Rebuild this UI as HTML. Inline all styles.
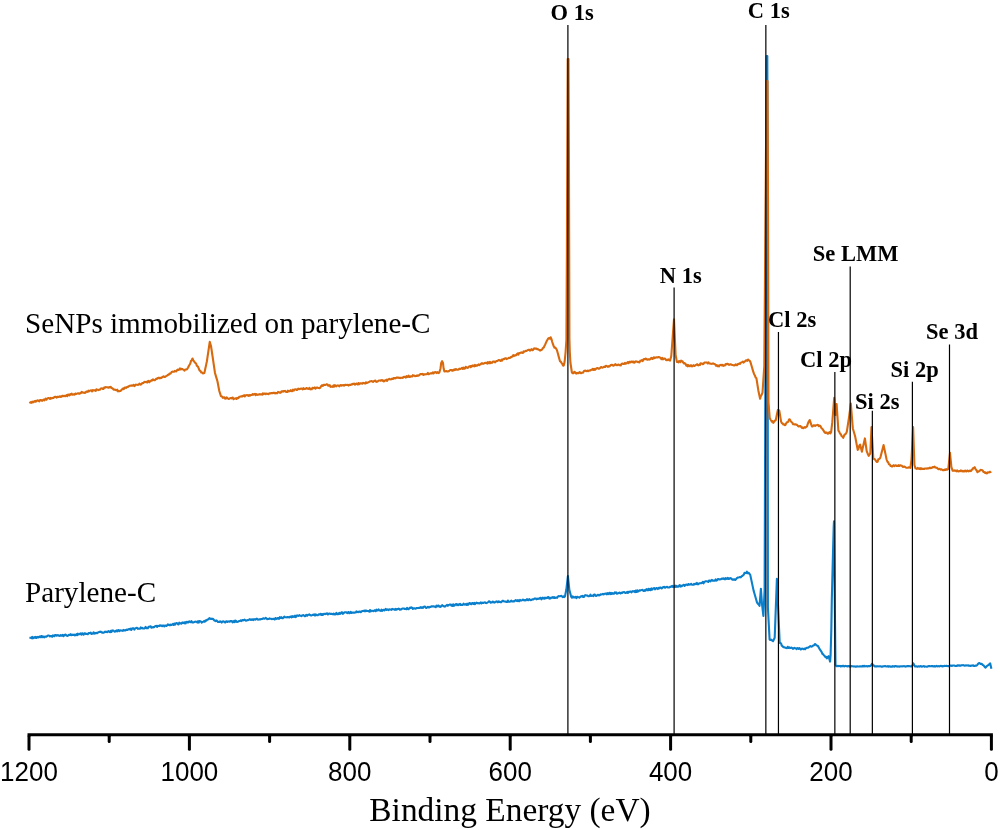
<!DOCTYPE html>
<html><head><meta charset="utf-8"><style>
html,body{margin:0;padding:0;background:#fff;}
svg{display:block;will-change:transform;}
</style></head><body>
<svg width="1000" height="830" viewBox="0 0 1000 830">
<rect width="1000" height="830" fill="#fff"/>
<path d="M29.40 637.75 L30.11 637.79 L30.82 637.77 L31.53 638.23 L32.24 636.85 L32.95 638.30 L33.65 637.63 L34.36 637.17 L35.07 637.80 L35.78 636.84 L36.49 638.02 L37.20 637.26 L37.91 636.83 L38.62 637.46 L39.33 636.86 L40.04 636.35 L40.75 637.26 L41.45 636.02 L42.16 637.27 L42.87 636.25 L43.58 636.85 L44.29 637.38 L45.00 636.50 L45.71 636.61 L46.43 636.70 L47.14 636.06 L47.86 635.49 L48.57 635.51 L49.29 635.66 L50.00 636.42 L50.71 636.06 L51.43 636.16 L52.14 636.77 L52.86 635.43 L53.57 635.56 L54.29 636.24 L55.00 635.13 L55.71 635.05 L56.43 635.61 L57.14 635.15 L57.86 635.54 L58.57 635.27 L59.29 635.84 L60.00 635.81 L60.71 635.12 L61.43 635.79 L62.14 635.50 L62.86 634.88 L63.57 636.20 L64.29 634.98 L65.00 634.78 L65.71 634.65 L66.43 635.53 L67.14 635.89 L67.86 635.70 L68.57 635.01 L69.29 634.74 L70.00 635.10 L70.71 634.21 L71.43 635.23 L72.14 635.03 L72.86 634.61 L73.57 635.05 L74.29 634.64 L75.00 635.42 L75.71 635.02 L76.43 634.13 L77.14 635.19 L77.86 633.66 L78.57 634.43 L79.29 634.16 L80.00 633.81 L80.71 633.45 L81.43 634.61 L82.14 633.25 L82.86 634.11 L83.57 634.71 L84.29 633.29 L85.00 633.33 L85.71 633.96 L86.43 633.73 L87.14 633.90 L87.86 634.13 L88.57 632.99 L89.29 633.16 L90.00 633.08 L90.71 632.59 L91.43 633.96 L92.14 633.72 L92.86 633.55 L93.57 632.28 L94.29 633.65 L95.00 633.00 L95.71 633.34 L96.43 632.79 L97.14 633.19 L97.86 632.62 L98.57 632.16 L99.29 631.88 L100.00 632.02 L100.71 631.62 L101.43 632.05 L102.14 632.68 L102.86 632.51 L103.57 632.70 L104.29 632.39 L105.00 631.56 L105.71 631.98 L106.43 631.70 L107.14 632.23 L107.86 631.70 L108.57 631.19 L109.29 631.76 L110.00 632.23 L110.71 630.88 L111.43 631.94 L112.14 630.39 L112.86 630.74 L113.57 630.62 L114.29 631.41 L115.00 631.68 L115.71 631.26 L116.43 630.48 L117.14 631.34 L117.86 630.33 L118.57 630.11 L119.29 631.17 L120.00 630.40 L120.71 630.55 L121.43 630.58 L122.14 630.45 L122.86 630.91 L123.57 629.97 L124.29 630.52 L125.00 630.21 L125.71 630.40 L126.43 629.61 L127.14 630.02 L127.86 629.69 L128.57 629.16 L129.29 628.93 L130.00 629.55 L130.71 628.55 L131.43 629.89 L132.14 628.51 L132.86 628.23 L133.57 628.29 L134.29 629.61 L135.00 628.55 L135.71 628.13 L136.43 627.86 L137.14 627.80 L137.86 628.83 L138.57 628.66 L139.29 628.69 L140.00 628.68 L140.71 627.47 L141.43 628.28 L142.14 627.82 L142.86 628.52 L143.57 628.44 L144.29 628.49 L145.00 627.75 L145.71 626.94 L146.43 628.22 L147.14 628.22 L147.86 628.20 L148.57 626.70 L149.29 626.79 L150.00 626.55 L150.71 626.34 L151.43 627.65 L152.14 627.51 L152.86 627.13 L153.57 627.38 L154.29 626.98 L155.00 626.31 L155.71 625.92 L156.43 625.84 L157.14 626.88 L157.86 625.87 L158.57 625.98 L159.29 626.08 L160.00 625.32 L160.71 625.65 L161.43 625.61 L162.14 626.27 L162.86 625.61 L163.57 625.45 L164.29 626.47 L165.00 625.60 L165.71 625.50 L166.43 625.99 L167.14 625.48 L167.86 624.38 L168.57 624.92 L169.29 624.86 L170.00 625.32 L170.71 624.49 L171.43 625.00 L172.14 624.61 L172.86 623.96 L173.57 624.95 L174.29 623.53 L175.00 624.66 L175.71 623.45 L176.43 623.06 L177.14 623.30 L177.86 624.14 L178.57 624.40 L179.29 622.64 L180.00 623.36 L180.71 623.26 L181.43 623.67 L182.14 622.53 L182.86 622.95 L183.57 622.59 L184.29 623.31 L185.00 622.23 L185.71 623.29 L186.43 622.06 L187.14 621.84 L187.86 622.56 L188.57 622.11 L189.29 621.34 L190.00 621.90 L190.74 622.13 L191.47 621.19 L192.21 622.39 L192.94 622.24 L193.68 622.39 L194.41 622.12 L195.15 621.65 L195.88 621.73 L196.62 621.72 L197.35 622.56 L198.09 621.20 L198.82 622.56 L199.56 621.09 L200.29 621.40 L201.03 621.50 L201.76 622.58 L202.50 621.90 L203.25 621.64 L204.00 621.17 L204.75 621.77 L205.50 620.41 L206.25 620.60 L207.04 619.91 L207.82 619.40 L208.61 619.16 L209.40 618.10 L210.12 618.81 L210.85 618.90 L211.57 618.67 L212.30 618.91 L213.03 618.89 L213.75 619.75 L214.46 620.64 L215.18 620.64 L215.89 621.08 L216.61 620.42 L217.32 621.18 L218.04 622.06 L218.75 621.90 L219.48 622.03 L220.21 621.26 L220.94 621.84 L221.67 622.55 L222.40 621.45 L223.12 621.38 L223.85 621.56 L224.58 622.25 L225.31 622.48 L226.04 621.31 L226.77 621.32 L227.50 621.90 L228.24 621.42 L228.97 621.50 L229.71 621.78 L230.44 621.11 L231.18 621.34 L231.91 621.05 L232.65 622.34 L233.38 621.87 L234.12 620.75 L234.85 622.16 L235.59 620.64 L236.32 621.07 L237.06 622.03 L237.79 621.66 L238.53 621.50 L239.26 620.94 L240.00 621.00 L240.74 620.39 L241.47 621.05 L242.21 620.05 L242.94 620.12 L243.68 620.34 L244.41 619.64 L245.15 620.17 L245.88 620.74 L246.62 620.48 L247.35 620.06 L248.09 620.19 L248.82 619.81 L249.56 619.17 L250.29 619.86 L251.03 619.43 L251.76 619.90 L252.50 619.40 L253.24 620.04 L253.97 619.18 L254.71 619.37 L255.44 619.61 L256.18 619.00 L256.91 618.62 L257.65 619.41 L258.38 619.62 L259.12 619.39 L259.85 619.21 L260.59 619.42 L261.32 619.07 L262.06 618.95 L262.79 618.58 L263.53 618.29 L264.26 618.77 L265.00 618.50 L265.75 617.87 L266.50 618.46 L267.25 619.13 L268.00 619.06 L268.75 618.97 L269.50 618.38 L270.25 618.72 L271.00 618.82 L271.75 619.16 L272.50 619.00 L273.24 618.74 L273.97 619.09 L274.71 619.42 L275.44 618.05 L276.18 618.75 L276.91 618.86 L277.65 618.09 L278.38 618.16 L279.12 618.88 L279.85 617.19 L280.59 617.94 L281.32 617.19 L282.06 618.14 L282.79 618.31 L283.53 617.49 L284.26 616.67 L285.00 617.25 L285.71 617.31 L286.43 617.19 L287.14 617.43 L287.86 617.01 L288.57 617.17 L289.29 617.42 L290.00 616.84 L290.71 616.58 L291.43 617.43 L292.14 616.11 L292.86 616.86 L293.57 616.30 L294.29 616.86 L295.00 615.71 L295.71 617.11 L296.43 615.98 L297.14 615.40 L297.86 615.71 L298.57 615.86 L299.29 615.14 L300.00 615.76 L300.71 615.70 L301.43 616.11 L302.14 615.46 L302.86 615.24 L303.57 615.11 L304.29 615.92 L305.00 616.20 L305.71 615.43 L306.43 614.84 L307.14 615.77 L307.86 615.01 L308.57 614.64 L309.29 614.43 L310.00 615.00 L310.71 615.43 L311.43 615.45 L312.14 615.12 L312.86 614.80 L313.57 614.93 L314.29 614.32 L315.00 615.54 L315.71 614.46 L316.43 614.91 L317.14 615.18 L317.86 615.14 L318.57 614.52 L319.29 614.19 L320.00 614.58 L320.71 613.83 L321.43 615.00 L322.14 614.15 L322.86 614.95 L323.57 613.93 L324.29 614.08 L325.00 613.83 L325.71 614.09 L326.43 613.64 L327.14 613.30 L327.86 614.48 L328.57 613.70 L329.29 613.60 L330.00 613.66 L330.71 613.93 L331.43 613.81 L332.14 614.13 L332.86 614.13 L333.57 613.59 L334.29 614.51 L335.00 613.75 L335.71 614.29 L336.43 612.87 L337.14 614.12 L337.86 614.19 L338.57 613.93 L339.29 612.77 L340.00 613.88 L340.71 613.48 L341.43 612.37 L342.14 612.31 L342.86 613.84 L343.57 613.28 L344.29 612.53 L345.00 612.21 L345.71 612.22 L346.43 612.31 L347.14 613.18 L347.86 612.38 L348.57 611.99 L349.29 613.21 L350.00 612.96 L350.71 611.83 L351.43 613.00 L352.14 612.46 L352.86 612.69 L353.57 612.44 L354.29 612.76 L355.00 612.52 L355.71 612.54 L356.43 611.39 L357.14 612.17 L357.86 611.84 L358.57 612.13 L359.29 611.56 L360.00 611.60 L360.71 612.20 L361.43 611.59 L362.14 611.04 L362.86 610.94 L363.57 610.72 L364.29 611.27 L365.00 610.48 L365.71 611.12 L366.43 610.52 L367.14 611.06 L367.86 611.02 L368.57 611.03 L369.29 611.53 L370.00 610.02 L370.71 611.39 L371.43 610.70 L372.14 610.81 L372.86 610.93 L373.57 611.17 L374.29 610.33 L375.00 610.35 L375.71 611.22 L376.43 609.66 L377.14 610.56 L377.86 610.51 L378.57 609.42 L379.29 610.36 L380.00 610.43 L380.71 610.80 L381.43 609.73 L382.14 610.78 L382.86 609.93 L383.57 609.83 L384.29 610.48 L385.00 609.75 L385.71 608.92 L386.43 610.05 L387.14 609.86 L387.86 609.33 L388.57 610.19 L389.29 609.31 L390.00 609.46 L390.71 609.51 L391.43 609.89 L392.14 608.90 L392.86 609.25 L393.57 609.19 L394.29 609.38 L395.00 609.81 L395.71 608.86 L396.43 609.74 L397.14 608.98 L397.86 609.11 L398.57 608.68 L399.29 609.05 L400.00 609.81 L400.71 609.23 L401.43 609.42 L402.14 608.61 L402.86 608.55 L403.57 608.48 L404.29 608.93 L405.00 608.75 L405.71 608.93 L406.43 609.13 L407.14 607.81 L407.86 608.92 L408.57 609.14 L409.29 608.51 L410.00 607.61 L410.71 607.99 L411.43 607.43 L412.14 607.69 L412.86 608.89 L413.57 608.30 L414.29 608.33 L415.00 608.50 L415.71 608.65 L416.43 608.09 L417.14 608.05 L417.86 608.01 L418.57 608.08 L419.29 607.86 L420.00 607.95 L420.71 607.10 L421.43 607.82 L422.14 607.41 L422.86 607.88 L423.57 606.70 L424.29 606.78 L425.00 606.48 L425.71 607.68 L426.43 607.87 L427.14 607.38 L427.86 606.84 L428.57 607.55 L429.29 607.44 L430.00 606.90 L430.71 606.95 L431.43 606.38 L432.14 606.40 L432.86 606.55 L433.57 606.32 L434.29 606.46 L435.00 606.76 L435.71 607.20 L436.43 605.65 L437.14 606.47 L437.86 605.52 L438.57 605.60 L439.29 606.72 L440.00 606.27 L440.71 606.80 L441.43 605.94 L442.14 605.15 L442.86 605.73 L443.57 606.02 L444.29 606.56 L445.00 606.58 L445.71 605.66 L446.43 605.50 L447.14 604.92 L447.86 605.79 L448.57 605.00 L449.29 604.84 L450.00 604.56 L450.71 604.48 L451.43 605.58 L452.14 604.57 L452.86 605.96 L453.57 604.41 L454.29 605.68 L455.00 605.00 L455.71 604.31 L456.43 604.07 L457.14 605.21 L457.86 604.34 L458.57 605.13 L459.29 604.14 L460.00 603.86 L460.71 605.03 L461.43 604.87 L462.14 605.06 L462.86 604.79 L463.57 603.64 L464.29 604.51 L465.00 604.60 L465.71 604.12 L466.43 604.87 L467.14 603.66 L467.86 604.81 L468.57 604.34 L469.29 603.08 L470.00 603.04 L470.71 604.06 L471.43 604.29 L472.14 602.98 L472.86 603.32 L473.57 603.98 L474.29 602.97 L475.00 604.09 L475.71 603.40 L476.43 602.62 L477.14 603.09 L477.86 603.39 L478.57 603.10 L479.29 603.45 L480.00 603.10 L480.71 602.41 L481.43 603.43 L482.14 602.61 L482.86 603.00 L483.57 602.89 L484.29 602.45 L485.00 602.31 L485.71 602.90 L486.43 603.08 L487.14 602.73 L487.86 602.27 L488.57 601.72 L489.29 601.24 L490.00 601.90 L490.71 602.69 L491.43 602.21 L492.14 602.40 L492.86 601.54 L493.57 601.98 L494.29 602.60 L495.00 602.33 L495.71 601.92 L496.43 601.40 L497.14 601.59 L497.86 602.35 L498.57 601.46 L499.29 601.97 L500.00 601.81 L500.71 602.29 L501.43 602.12 L502.14 601.21 L502.86 600.71 L503.57 601.14 L504.29 601.39 L505.00 601.50 L505.71 601.59 L506.43 601.93 L507.14 602.00 L507.86 600.51 L508.57 601.80 L509.29 601.71 L510.00 601.75 L510.71 601.19 L511.43 600.63 L512.14 601.56 L512.86 601.43 L513.57 601.17 L514.29 601.51 L515.00 600.49 L515.71 599.99 L516.43 600.73 L517.14 601.09 L517.86 600.03 L518.57 600.91 L519.29 601.16 L520.00 599.92 L520.71 600.50 L521.43 600.57 L522.14 600.16 L522.86 599.66 L523.57 599.69 L524.29 600.48 L525.00 600.00 L525.71 600.43 L526.43 599.80 L527.14 599.11 L527.86 600.26 L528.57 600.14 L529.29 599.16 L530.00 599.69 L530.71 600.16 L531.43 600.08 L532.14 599.39 L532.86 599.25 L533.57 599.38 L534.29 598.64 L535.00 598.58 L535.71 598.49 L536.43 599.31 L537.14 598.67 L537.86 598.95 L538.57 598.61 L539.29 598.74 L540.00 598.05 L540.71 597.81 L541.43 599.37 L542.14 598.24 L542.86 597.72 L543.57 598.55 L544.29 598.75 L545.00 597.62 L545.71 598.30 L546.43 597.81 L547.14 598.04 L547.86 597.13 L548.57 597.09 L549.29 598.65 L550.00 597.75 L550.71 598.30 L551.43 597.58 L552.14 597.65 L552.86 597.06 L553.57 597.87 L554.29 597.20 L555.00 598.01 L555.71 597.63 L556.43 597.65 L557.14 597.82 L557.86 596.55 L558.57 596.11 L559.29 596.31 L560.00 596.21 L560.71 595.97 L561.43 595.84 L562.14 596.63 L562.86 597.09 L563.57 596.32 L564.29 597.08 L565.00 596.25 L566.25 590.00 L567.08 583.00 L567.90 576.00 L568.65 583.00 L569.40 590.00 L570.33 593.45 L571.25 596.90 L572.00 597.72 L572.75 596.40 L573.50 597.43 L574.25 597.21 L575.00 597.50 L575.74 596.74 L576.47 598.06 L577.21 596.75 L577.94 597.16 L578.68 597.18 L579.41 597.61 L580.15 597.01 L580.88 596.42 L581.62 596.41 L582.35 595.80 L583.09 597.06 L583.82 596.99 L584.56 595.57 L585.29 595.15 L586.03 595.41 L586.76 595.46 L587.50 595.60 L588.24 596.25 L588.97 596.22 L589.71 596.07 L590.44 594.69 L591.18 595.91 L591.91 595.74 L592.65 595.60 L593.38 596.14 L594.12 594.53 L594.85 594.64 L595.59 595.65 L596.32 595.92 L597.06 595.44 L597.79 594.76 L598.53 595.23 L599.26 595.47 L600.00 595.00 L600.74 594.22 L601.47 594.48 L602.21 594.25 L602.94 593.91 L603.68 594.41 L604.41 593.77 L605.15 593.77 L605.88 593.50 L606.62 594.30 L607.35 593.05 L608.09 594.14 L608.82 593.14 L609.56 592.76 L610.29 594.16 L611.03 592.85 L611.76 593.95 L612.50 593.10 L613.24 593.70 L613.97 593.72 L614.71 592.43 L615.44 592.93 L616.18 592.31 L616.91 593.71 L617.65 593.54 L618.38 593.15 L619.12 592.83 L619.85 592.62 L620.59 593.42 L621.32 592.81 L622.06 593.05 L622.79 592.20 L623.53 592.32 L624.26 592.02 L625.00 592.75 L625.71 593.02 L626.43 592.64 L627.14 591.85 L627.86 592.99 L628.57 591.86 L629.29 592.01 L630.00 591.48 L630.71 591.58 L631.43 592.44 L632.14 591.49 L632.86 591.10 L633.57 591.56 L634.29 591.16 L635.00 592.06 L635.71 590.62 L636.43 591.99 L637.14 590.33 L637.86 591.65 L638.57 591.17 L639.29 590.29 L640.00 590.65 L640.71 590.23 L641.43 590.08 L642.14 589.89 L642.86 590.06 L643.57 591.03 L644.29 590.94 L645.00 590.00 L645.71 590.63 L646.43 589.14 L647.14 589.38 L647.86 590.32 L648.57 588.80 L649.29 589.85 L650.00 589.03 L650.71 590.11 L651.43 588.38 L652.14 589.64 L652.86 588.76 L653.57 588.33 L654.29 588.00 L655.00 589.32 L655.71 588.72 L656.43 588.05 L657.14 588.38 L657.86 589.11 L658.57 587.84 L659.29 588.35 L660.00 587.52 L660.71 587.51 L661.43 588.42 L662.14 588.23 L662.86 587.27 L663.57 586.98 L664.29 586.91 L665.00 587.70 L665.71 587.42 L666.43 586.96 L667.14 586.75 L667.86 587.36 L668.57 587.43 L669.29 587.52 L670.00 586.90 L670.74 586.96 L671.47 586.24 L672.21 585.93 L672.94 586.99 L673.68 586.36 L674.41 586.82 L675.15 585.61 L675.88 586.82 L676.62 585.93 L677.35 586.72 L678.09 586.68 L678.82 585.97 L679.56 585.08 L680.29 586.53 L681.03 585.71 L681.76 586.31 L682.50 585.60 L683.22 585.11 L683.94 584.87 L684.66 585.88 L685.38 584.99 L686.11 584.55 L686.83 584.80 L687.55 585.09 L688.27 583.99 L688.99 584.77 L689.71 584.55 L690.43 584.57 L691.15 583.80 L691.88 584.71 L692.60 584.79 L693.32 584.78 L694.04 583.76 L694.76 584.32 L695.48 583.67 L696.20 584.20 L696.92 582.93 L697.64 584.21 L698.37 584.26 L699.09 583.38 L699.81 583.31 L700.53 583.25 L701.25 583.10 L702.03 582.96 L702.81 581.89 L703.59 583.29 L704.38 581.83 L705.16 581.56 L705.94 581.22 L706.72 581.28 L707.50 581.50 L708.24 581.92 L708.97 580.45 L709.71 580.44 L710.44 581.34 L711.18 580.36 L711.91 579.94 L712.65 580.80 L713.38 580.64 L714.12 580.43 L714.85 580.61 L715.59 579.47 L716.32 580.65 L717.06 580.26 L717.79 579.00 L718.53 579.01 L719.26 579.51 L720.00 579.40 L720.71 579.31 L721.43 578.84 L722.14 578.48 L722.86 578.87 L723.57 578.32 L724.29 579.00 L725.00 579.36 L725.71 578.06 L726.43 578.69 L727.14 578.89 L727.86 577.81 L728.57 578.84 L729.29 578.94 L730.00 578.10 L730.75 578.24 L731.50 578.62 L732.25 579.67 L733.00 579.46 L733.75 579.75 L734.53 579.24 L735.31 579.84 L736.09 579.23 L736.88 578.15 L737.66 577.65 L738.44 577.48 L739.22 577.32 L740.00 577.10 L740.77 577.32 L741.53 576.42 L742.30 576.00 L743.07 575.24 L743.83 574.69 L744.60 572.74 L745.37 572.93 L746.13 573.08 L746.90 571.70 L747.73 573.16 L748.55 572.72 L749.38 573.74 L750.20 574.60 L751.05 578.60 L751.90 582.60 L752.75 586.60 L753.60 590.60 L754.45 593.55 L755.30 596.50 L756.15 599.45 L757.00 602.40 L757.83 603.76 L758.67 604.44 L759.50 605.80 L760.90 588.90 L762.00 604.10 L763.40 615.90 L764.60 590.60 L766.00 200.00 L766.70 56.00 L767.30 56.00 L767.70 200.00 L767.90 607.50 L768.75 623.50 L769.60 639.50 L770.45 639.98 L771.30 639.62 L772.15 640.66 L773.00 641.20 L773.85 639.51 L774.70 637.80 L775.43 618.13 L776.17 598.47 L776.90 578.80 L778.10 607.50 L778.90 625.20 L779.70 642.90 L780.42 642.79 L781.13 643.69 L781.85 645.80 L782.57 646.17 L783.28 647.14 L784.00 647.10 L784.74 647.42 L785.49 647.80 L786.23 648.02 L786.98 648.11 L787.72 646.75 L788.47 647.87 L789.21 647.32 L789.96 648.11 L790.70 647.90 L791.43 647.58 L792.15 648.10 L792.88 648.82 L793.60 648.37 L794.33 647.80 L795.05 648.32 L795.78 648.24 L796.50 649.19 L797.23 648.12 L797.95 648.22 L798.68 648.87 L799.40 648.03 L800.12 648.91 L800.85 649.59 L801.58 648.90 L802.30 648.55 L803.03 648.95 L803.75 649.13 L804.48 648.54 L805.20 649.20 L805.94 648.21 L806.69 647.87 L807.43 647.80 L808.17 647.64 L808.91 647.09 L809.66 646.66 L810.40 646.05 L811.14 646.48 L811.89 646.63 L812.63 645.89 L813.37 645.47 L814.11 645.26 L814.86 644.14 L815.60 644.30 L816.47 645.36 L817.33 645.63 L818.20 646.40 L818.92 647.75 L819.63 649.13 L820.35 650.15 L821.07 651.14 L821.78 652.30 L822.50 654.00 L823.23 654.26 L823.97 655.49 L824.70 656.00 L825.43 657.08 L826.17 656.84 L826.90 658.40 L827.75 657.05 L828.60 656.20 L829.35 658.90 L830.10 661.60 L830.60 655.00 L831.30 630.00 L831.80 600.00 L832.30 580.00 L833.20 545.00 L833.70 527.00 L834.00 521.40 L834.90 612.80 L835.50 664.80 L836.20 666.00 L836.92 666.29 L837.65 665.83 L838.37 666.09 L839.09 666.05 L839.82 665.91 L840.54 666.47 L841.26 665.95 L841.98 666.33 L842.71 665.88 L843.43 665.82 L844.15 666.45 L844.88 666.14 L845.60 665.86 L846.32 666.13 L847.05 666.18 L847.77 666.43 L848.49 665.96 L849.22 666.07 L849.94 666.64 L850.66 666.49 L851.38 666.06 L852.11 666.21 L852.83 666.24 L853.55 666.50 L854.28 666.47 L855.00 666.40 L855.73 666.65 L856.46 666.61 L857.19 666.36 L857.91 666.51 L858.64 666.49 L859.37 666.48 L860.10 666.25 L860.83 666.47 L861.56 666.39 L862.29 666.53 L863.01 665.91 L863.74 666.46 L864.47 665.77 L865.20 666.34 L865.93 666.18 L866.66 666.09 L867.39 666.43 L868.11 666.11 L868.84 665.98 L869.57 666.24 L870.30 666.00 L871.15 665.19 L872.00 663.80 L872.87 664.75 L873.73 665.44 L874.60 666.40 L875.33 666.36 L876.07 666.37 L876.80 666.57 L877.53 666.24 L878.27 666.32 L879.00 666.44 L879.73 666.31 L880.47 666.26 L881.20 666.62 L881.93 666.67 L882.67 666.40 L883.40 666.36 L884.13 666.16 L884.87 666.25 L885.60 666.13 L886.33 666.46 L887.07 666.46 L887.80 666.08 L888.53 666.72 L889.27 666.27 L890.00 666.40 L890.70 666.66 L891.41 666.65 L892.11 666.73 L892.81 666.15 L893.52 666.31 L894.22 666.68 L894.92 665.98 L895.63 666.00 L896.33 666.39 L897.03 666.33 L897.74 666.65 L898.44 666.53 L899.14 666.35 L899.85 666.69 L900.55 666.32 L901.25 666.31 L901.95 666.43 L902.66 666.20 L903.36 666.17 L904.06 666.34 L904.77 666.15 L905.47 666.60 L906.17 666.39 L906.88 666.26 L907.58 665.93 L908.28 666.14 L908.99 666.15 L909.69 666.27 L910.39 666.27 L911.10 666.50 L911.80 666.20 L912.60 665.16 L913.40 663.40 L914.80 666.40 L915.50 666.38 L916.20 666.34 L916.90 666.48 L917.60 666.76 L918.30 666.25 L919.00 666.39 L919.70 666.60 L920.40 666.10 L921.10 666.21 L921.80 666.71 L922.50 666.59 L923.20 666.34 L923.90 666.03 L924.60 666.62 L925.30 666.46 L926.00 666.56 L926.70 666.68 L927.40 666.60 L928.10 666.23 L928.80 666.03 L929.50 666.12 L930.20 666.29 L930.90 666.28 L931.60 666.03 L932.30 666.02 L933.00 666.36 L933.70 666.33 L934.40 666.13 L935.10 666.62 L935.80 666.34 L936.50 665.88 L937.20 666.15 L937.90 666.44 L938.60 666.06 L939.30 666.35 L940.00 666.20 L940.71 665.80 L941.41 666.00 L942.12 666.39 L942.82 666.17 L943.53 666.21 L944.24 665.83 L944.94 666.03 L945.65 666.05 L946.35 665.81 L947.06 666.08 L947.76 665.97 L948.47 666.30 L949.18 665.95 L949.88 665.80 L950.59 665.56 L951.29 665.56 L952.00 666.00 L952.71 665.48 L953.41 665.45 L954.12 665.48 L954.82 665.72 L955.53 665.93 L956.24 665.75 L956.94 665.87 L957.65 665.28 L958.35 665.22 L959.06 665.77 L959.76 665.41 L960.47 665.68 L961.18 665.38 L961.88 665.22 L962.59 665.27 L963.29 665.12 L964.00 665.40 L964.71 665.73 L965.41 665.51 L966.12 665.35 L966.82 665.46 L967.53 665.43 L968.24 665.20 L968.94 665.86 L969.65 665.65 L970.35 665.96 L971.06 665.59 L971.76 665.75 L972.47 665.49 L973.18 665.36 L973.88 666.06 L974.59 666.02 L975.29 665.63 L976.00 665.80 L976.75 665.41 L977.50 664.64 L978.25 663.55 L979.00 663.00 L979.75 663.33 L980.50 663.85 L981.25 663.75 L982.00 664.00 L982.72 665.06 L983.44 665.24 L984.16 666.08 L984.88 667.05 L985.60 667.60 L986.40 666.59 L987.20 665.85 L988.00 665.20 L988.73 664.89 L989.47 663.99 L990.20 663.40 L991.40 668.80" fill="none" stroke="#0A7FCC" stroke-width="2.1" stroke-linejoin="round"/>
<path d="M29.40 403.10 L30.11 402.63 L30.82 402.17 L31.53 402.85 L32.24 401.70 L32.95 402.32 L33.65 401.86 L34.36 401.17 L35.07 401.77 L35.78 400.80 L36.49 401.31 L37.20 400.52 L37.91 400.39 L38.62 400.79 L39.33 401.30 L40.04 399.94 L40.75 399.94 L41.45 400.46 L42.16 400.83 L42.87 400.04 L43.58 399.56 L44.29 400.38 L45.00 399.40 L45.72 398.49 L46.44 399.74 L47.16 398.64 L47.88 398.26 L48.61 398.08 L49.33 398.27 L50.05 399.00 L50.77 397.78 L51.49 398.33 L52.21 398.29 L52.93 397.70 L53.65 397.87 L54.38 396.91 L55.10 396.77 L55.82 396.88 L56.54 397.55 L57.26 396.99 L57.98 396.66 L58.70 396.99 L59.42 396.63 L60.14 396.23 L60.87 396.94 L61.59 396.64 L62.31 395.73 L63.03 396.16 L63.75 395.90 L64.47 395.81 L65.19 396.28 L65.91 395.90 L66.63 395.02 L67.36 396.06 L68.08 394.47 L68.80 394.85 L69.52 395.29 L70.24 394.13 L70.96 394.57 L71.68 393.68 L72.40 394.62 L73.12 394.65 L73.85 394.19 L74.57 394.58 L75.29 393.49 L76.01 394.01 L76.73 393.71 L77.45 393.55 L78.17 393.21 L78.89 393.73 L79.62 393.78 L80.34 392.85 L81.06 393.04 L81.78 391.88 L82.50 392.50 L83.24 392.72 L83.97 392.50 L84.71 392.97 L85.44 392.55 L86.18 391.52 L86.91 391.56 L87.65 391.92 L88.38 390.70 L89.12 391.32 L89.85 390.70 L90.59 390.49 L91.32 390.27 L92.06 391.35 L92.79 390.14 L93.53 390.22 L94.26 390.34 L95.00 390.40 L95.71 390.84 L96.43 389.31 L97.14 389.75 L97.86 389.73 L98.57 390.11 L99.29 389.81 L100.00 389.69 L100.71 388.51 L101.43 388.55 L102.14 388.27 L102.86 388.97 L103.57 388.91 L104.29 387.35 L105.00 387.75 L105.71 387.16 L106.43 387.22 L107.14 387.19 L107.86 387.58 L108.57 387.72 L109.29 387.13 L110.00 387.50 L110.73 386.95 L111.46 387.95 L112.19 388.15 L112.92 388.78 L113.65 389.73 L114.38 389.57 L115.10 389.57 L115.83 390.03 L116.56 390.42 L117.29 389.66 L118.02 391.39 L118.75 391.00 L119.47 391.17 L120.20 391.02 L120.92 390.58 L121.65 389.58 L122.38 389.28 L123.10 388.47 L123.83 389.06 L124.55 387.78 L125.28 387.47 L126.00 387.90 L126.75 387.14 L127.50 386.80 L128.25 386.84 L129.00 386.09 L129.75 385.74 L130.50 385.73 L131.25 385.38 L132.00 385.80 L132.75 385.46 L133.50 384.77 L134.25 386.10 L135.00 385.54 L135.75 384.64 L136.50 384.70 L137.25 384.75 L138.00 384.90 L138.80 384.37 L139.60 383.66 L140.40 384.59 L141.20 384.54 L142.00 383.34 L142.80 383.10 L143.52 382.89 L144.24 382.04 L144.96 381.88 L145.68 382.11 L146.40 381.80 L147.12 382.58 L147.84 381.26 L148.56 380.85 L149.28 382.25 L150.00 381.30 L150.75 381.05 L151.50 380.10 L152.25 380.47 L153.00 379.30 L153.75 379.85 L154.50 380.31 L155.25 379.82 L156.00 378.90 L156.75 379.05 L157.50 378.12 L158.25 378.11 L159.00 377.58 L159.75 378.42 L160.50 377.83 L161.25 378.06 L162.00 377.40 L162.75 376.77 L163.50 376.25 L164.25 376.92 L165.00 376.87 L165.75 376.31 L166.50 375.90 L167.25 375.58 L168.00 374.70 L168.75 374.73 L169.50 373.49 L170.25 373.60 L171.00 372.95 L171.75 372.02 L172.50 371.65 L173.25 371.70 L174.00 371.70 L174.75 370.92 L175.50 371.28 L176.25 371.35 L177.00 370.20 L177.75 369.64 L178.50 369.99 L179.25 369.60 L180.00 368.30 L180.73 369.46 L181.47 368.84 L182.20 368.97 L182.93 369.37 L183.67 369.70 L184.40 370.60 L185.14 369.48 L185.88 369.57 L186.62 369.42 L187.36 368.70 L188.10 367.50 L188.83 365.97 L189.57 364.76 L190.30 363.51 L191.03 360.79 L191.77 360.27 L192.50 358.50 L193.21 360.30 L193.93 361.19 L194.64 362.25 L195.36 362.89 L196.07 363.49 L196.79 365.63 L197.50 366.25 L198.25 367.22 L199.00 369.26 L199.75 370.80 L200.50 371.07 L201.25 372.50 L202.04 372.43 L202.82 373.46 L203.61 373.18 L204.40 372.90 L205.23 369.02 L206.07 365.13 L206.90 361.25 L207.61 356.41 L208.32 351.57 L209.04 346.74 L209.75 341.90 L211.00 346.00 L211.75 351.00 L212.50 356.00 L213.33 361.67 L214.17 367.33 L215.00 373.00 L215.83 375.83 L216.67 378.67 L217.50 381.50 L218.40 386.25 L219.30 391.00 L220.15 393.65 L221.00 396.30 L221.95 396.49 L222.90 397.80 L223.67 397.22 L224.43 397.31 L225.20 398.64 L225.97 398.52 L226.73 397.45 L227.50 398.10 L228.25 398.70 L229.00 399.00 L229.75 398.49 L230.50 398.01 L231.25 398.38 L232.00 397.71 L232.75 397.55 L233.50 399.22 L234.25 398.71 L235.00 398.50 L235.70 398.34 L236.41 398.83 L237.11 397.78 L237.81 398.32 L238.52 398.04 L239.22 396.79 L239.92 396.66 L240.62 396.52 L241.33 396.23 L242.03 396.62 L242.73 395.86 L243.44 395.92 L244.14 395.23 L244.84 396.35 L245.55 395.20 L246.25 395.25 L246.97 395.13 L247.70 395.30 L248.42 395.80 L249.14 394.94 L249.87 395.74 L250.59 394.98 L251.32 394.99 L252.04 394.93 L252.76 394.03 L253.49 394.70 L254.21 394.22 L254.93 393.87 L255.66 395.18 L256.38 394.07 L257.11 394.53 L257.83 394.92 L258.55 394.59 L259.28 394.15 L260.00 394.40 L260.72 394.35 L261.44 394.33 L262.16 394.64 L262.88 393.40 L263.61 394.09 L264.33 393.48 L265.05 393.44 L265.77 394.20 L266.49 393.67 L267.21 393.68 L267.93 393.93 L268.65 394.11 L269.38 393.23 L270.10 393.43 L270.82 393.17 L271.54 393.10 L272.26 393.32 L272.98 392.83 L273.70 392.89 L274.42 392.71 L275.14 393.41 L275.87 392.92 L276.59 393.14 L277.31 393.17 L278.03 391.92 L278.75 392.25 L279.45 392.27 L280.16 392.85 L280.86 392.59 L281.56 391.32 L282.27 391.22 L282.97 391.68 L283.67 390.98 L284.38 391.18 L285.08 390.82 L285.78 391.76 L286.48 391.87 L287.19 391.99 L287.89 390.65 L288.59 391.52 L289.30 391.35 L290.00 391.00 L290.75 390.17 L291.50 391.20 L292.25 391.12 L293.00 389.62 L293.75 390.64 L294.50 389.48 L295.25 389.40 L296.00 389.20 L296.75 390.01 L297.50 389.72 L298.25 388.55 L299.00 388.98 L299.75 389.10 L300.50 388.78 L301.25 388.51 L302.00 388.69 L302.75 389.35 L303.50 388.13 L304.25 389.02 L305.00 388.90 L305.75 388.75 L306.50 387.98 L307.25 388.46 L308.00 388.91 L308.75 388.67 L309.50 387.86 L310.25 389.37 L311.00 388.99 L311.75 389.25 L312.50 387.73 L313.25 387.95 L314.00 388.30 L314.80 387.47 L315.60 388.67 L316.40 387.76 L317.20 387.47 L318.00 387.92 L318.80 388.00 L319.60 388.15 L320.40 387.44 L321.20 385.94 L322.00 385.20 L322.80 385.96 L323.60 384.70 L324.40 384.82 L325.20 385.04 L326.00 384.70 L326.75 384.23 L327.50 384.40 L328.25 385.69 L329.00 385.47 L329.75 385.10 L330.50 386.80 L331.25 386.50 L332.00 386.50 L332.72 386.85 L333.44 385.47 L334.16 386.63 L334.88 385.12 L335.60 385.70 L336.36 386.31 L337.13 385.60 L337.89 385.40 L338.65 385.75 L339.42 386.38 L340.18 385.25 L340.95 385.01 L341.71 385.67 L342.47 385.17 L343.24 384.95 L344.00 385.60 L344.75 384.95 L345.50 384.69 L346.25 384.87 L347.00 384.98 L347.75 384.89 L348.50 385.59 L349.25 384.72 L350.00 385.00 L350.71 384.89 L351.43 384.24 L352.14 384.42 L352.86 383.75 L353.57 384.04 L354.29 383.53 L355.00 384.65 L355.71 384.23 L356.43 383.51 L357.14 383.89 L357.86 384.56 L358.57 383.04 L359.29 384.15 L360.00 383.50 L360.74 383.27 L361.47 383.27 L362.21 383.73 L362.94 382.87 L363.68 382.95 L364.41 383.15 L365.15 383.54 L365.88 382.34 L366.62 383.06 L367.35 382.73 L368.09 382.50 L368.82 382.00 L369.56 381.79 L370.29 381.18 L371.03 381.19 L371.76 380.98 L372.50 381.60 L373.24 381.94 L373.97 381.04 L374.71 380.82 L375.44 380.61 L376.18 381.83 L376.91 381.81 L377.65 381.40 L378.38 380.66 L379.12 380.53 L379.85 380.54 L380.59 380.75 L381.32 380.17 L382.06 380.59 L382.79 380.21 L383.53 381.33 L384.26 381.27 L385.00 380.40 L385.71 380.36 L386.43 379.72 L387.14 380.82 L387.86 379.58 L388.57 379.53 L389.29 378.80 L390.00 379.32 L390.71 379.36 L391.43 379.28 L392.14 378.64 L392.86 379.03 L393.57 378.06 L394.29 378.37 L395.00 377.95 L395.71 378.35 L396.43 377.62 L397.14 377.46 L397.86 377.82 L398.57 377.57 L399.29 378.05 L400.00 377.82 L400.71 378.08 L401.43 377.79 L402.14 377.77 L402.86 377.92 L403.57 376.96 L404.29 376.73 L405.00 376.90 L405.71 377.63 L406.43 376.11 L407.14 376.99 L407.86 376.75 L408.57 375.64 L409.29 376.89 L410.00 376.89 L410.71 376.34 L411.43 376.42 L412.14 376.46 L412.86 375.22 L413.57 375.77 L414.29 375.64 L415.00 376.11 L415.71 375.96 L416.43 375.90 L417.14 375.39 L417.86 375.82 L418.57 375.37 L419.29 375.29 L420.00 374.40 L420.71 373.97 L421.43 374.04 L422.14 374.33 L422.86 373.80 L423.57 374.95 L424.29 374.38 L425.00 374.40 L425.71 374.30 L426.43 374.29 L427.14 373.87 L427.86 372.95 L428.57 374.20 L429.29 374.02 L430.00 373.50 L430.72 373.41 L431.45 373.37 L432.17 373.48 L432.89 372.38 L433.62 373.42 L434.34 372.50 L435.06 372.10 L435.78 372.33 L436.51 373.02 L437.23 372.04 L437.95 372.85 L438.68 373.15 L439.40 372.25 L440.50 368.50 L441.20 363.00 L442.10 361.20 L443.00 363.00 L443.60 368.50 L444.40 371.50 L445.11 371.39 L445.81 371.10 L446.52 371.16 L447.23 371.41 L447.93 371.45 L448.64 371.10 L449.35 371.04 L450.05 369.98 L450.76 370.00 L451.47 370.08 L452.17 370.81 L452.88 369.97 L453.59 370.32 L454.29 369.27 L455.00 370.00 L455.71 369.09 L456.43 369.29 L457.14 369.81 L457.86 369.69 L458.57 369.50 L459.29 368.68 L460.00 368.91 L460.71 368.66 L461.43 368.50 L462.14 367.75 L462.86 368.91 L463.57 367.57 L464.29 368.73 L465.00 368.50 L465.71 366.78 L466.43 367.37 L467.14 367.82 L467.86 367.92 L468.57 366.87 L469.29 366.41 L470.00 366.15 L470.71 367.24 L471.43 365.83 L472.14 366.30 L472.86 365.39 L473.57 365.88 L474.29 366.45 L475.00 364.90 L475.71 365.90 L476.43 365.21 L477.14 365.70 L477.86 365.23 L478.57 364.26 L479.29 365.24 L480.00 364.40 L480.71 364.24 L481.43 363.32 L482.14 363.15 L482.86 363.84 L483.57 363.64 L484.29 363.25 L485.00 362.84 L485.71 363.05 L486.43 362.87 L487.14 363.62 L487.86 362.06 L488.57 363.20 L489.29 363.21 L490.00 361.85 L490.71 363.09 L491.43 362.59 L492.14 362.78 L492.86 361.60 L493.57 361.60 L494.29 361.50 L495.00 362.40 L495.71 361.57 L496.43 361.04 L497.14 361.02 L497.86 360.62 L498.57 360.10 L499.29 360.06 L500.00 360.60 L500.74 360.91 L501.47 359.72 L502.21 360.57 L502.94 359.15 L503.68 358.92 L504.41 359.08 L505.15 358.28 L505.88 358.34 L506.62 359.07 L507.35 358.69 L508.09 358.32 L508.82 357.75 L509.56 357.98 L510.29 357.77 L511.03 356.85 L511.76 356.88 L512.50 356.25 L513.24 355.19 L513.97 356.06 L514.71 355.28 L515.44 355.50 L516.18 355.03 L516.91 354.12 L517.65 353.42 L518.38 354.62 L519.12 352.97 L519.85 353.26 L520.59 352.75 L521.32 352.38 L522.06 352.83 L522.79 352.94 L523.53 351.43 L524.26 351.81 L525.00 351.25 L525.71 350.73 L526.43 350.99 L527.14 350.53 L527.86 349.97 L528.57 349.78 L529.29 349.68 L530.00 350.69 L530.71 349.82 L531.43 349.17 L532.14 350.15 L532.86 350.13 L533.57 349.02 L534.29 348.32 L535.00 348.75 L535.71 348.49 L536.43 348.58 L537.14 349.27 L537.86 349.11 L538.57 349.63 L539.29 349.92 L540.00 350.60 L540.75 350.10 L541.50 350.02 L542.25 349.16 L543.00 347.97 L543.75 347.50 L544.50 345.80 L545.25 344.44 L546.00 342.64 L546.75 341.02 L547.50 339.75 L548.27 338.38 L549.05 338.12 L549.83 338.67 L550.60 337.25 L551.39 338.86 L552.17 341.76 L552.96 344.22 L553.75 346.25 L554.54 347.80 L555.33 347.64 L556.11 348.67 L556.90 350.00 L557.67 352.81 L558.45 355.62 L559.23 358.44 L560.00 361.25 L560.75 361.69 L561.50 362.82 L562.25 363.77 L563.00 365.50 L563.75 365.60 L564.60 362.00 L565.60 352.00 L566.40 340.00 L566.90 250.00 L567.30 150.00 L567.70 59.00 L568.50 59.00 L568.90 150.00 L569.20 250.00 L569.40 338.00 L569.80 352.00 L570.40 362.50 L571.15 367.50 L571.90 372.50 L572.66 373.16 L573.42 373.27 L574.18 371.89 L574.94 371.97 L575.71 373.19 L576.47 373.57 L577.23 372.92 L577.99 373.18 L578.75 373.10 L579.48 372.04 L580.21 372.50 L580.94 373.20 L581.67 372.82 L582.40 372.66 L583.12 372.65 L583.85 371.21 L584.58 370.77 L585.31 370.64 L586.04 371.05 L586.77 371.12 L587.50 370.60 L588.24 371.20 L588.97 370.68 L589.71 370.41 L590.44 370.46 L591.18 369.79 L591.91 369.81 L592.65 368.79 L593.38 369.90 L594.12 368.82 L594.85 369.84 L595.59 369.23 L596.32 368.50 L597.06 368.06 L597.79 368.12 L598.53 368.63 L599.26 368.58 L600.00 368.10 L600.74 367.26 L601.47 367.00 L602.21 367.59 L602.94 367.51 L603.68 367.00 L604.41 366.54 L605.15 367.00 L605.88 365.81 L606.62 366.12 L607.35 366.21 L608.09 366.87 L608.82 366.16 L609.56 366.38 L610.29 365.51 L611.03 364.91 L611.76 364.75 L612.50 365.00 L613.25 365.78 L614.00 365.35 L614.75 364.67 L615.50 364.19 L616.25 365.00 L617.00 365.30 L617.75 364.86 L618.50 364.59 L619.25 365.28 L620.00 365.00 L620.71 365.50 L621.43 364.09 L622.14 363.54 L622.86 363.84 L623.57 363.76 L624.29 363.98 L625.00 362.94 L625.71 363.73 L626.43 363.41 L627.14 362.79 L627.86 362.06 L628.57 363.14 L629.29 361.80 L630.00 361.90 L630.73 362.44 L631.46 361.44 L632.19 361.43 L632.92 362.34 L633.65 361.55 L634.38 362.67 L635.10 361.89 L635.83 361.37 L636.56 361.43 L637.29 361.76 L638.02 362.18 L638.75 361.90 L639.53 362.35 L640.31 360.67 L641.09 360.78 L641.88 360.16 L642.66 361.14 L643.44 359.42 L644.22 358.95 L645.00 359.40 L645.74 358.54 L646.47 359.00 L647.21 359.74 L647.94 359.61 L648.68 359.24 L649.41 359.58 L650.15 359.35 L650.88 358.22 L651.62 357.86 L652.35 359.02 L653.09 358.59 L653.82 357.26 L654.56 358.23 L655.29 357.63 L656.03 357.51 L656.76 357.33 L657.50 357.50 L658.28 357.09 L659.06 356.97 L659.84 357.59 L660.62 357.87 L661.41 359.06 L662.19 357.80 L662.97 359.38 L663.75 358.75 L664.53 358.48 L665.31 358.97 L666.09 359.99 L666.88 360.22 L667.66 359.79 L668.44 359.37 L669.22 360.32 L670.00 360.60 L671.25 356.25 L672.17 343.97 L673.08 331.68 L674.00 319.40 L674.80 337.20 L675.60 355.00 L676.90 361.90 L677.60 361.60 L678.30 362.45 L679.00 361.13 L679.70 361.34 L680.40 362.17 L681.10 360.61 L681.80 361.18 L682.50 361.25 L683.25 362.65 L684.00 363.44 L684.75 363.08 L685.50 363.94 L686.25 365.60 L686.98 364.86 L687.71 366.31 L688.44 365.19 L689.17 366.02 L689.90 366.28 L690.62 365.33 L691.35 365.21 L692.08 366.38 L692.81 365.80 L693.54 365.20 L694.27 365.97 L695.00 365.60 L695.70 365.09 L696.41 364.83 L697.11 364.18 L697.81 365.26 L698.52 365.34 L699.22 364.67 L699.92 365.00 L700.62 363.24 L701.33 363.40 L702.03 363.62 L702.73 364.25 L703.44 364.05 L704.14 362.89 L704.84 362.46 L705.55 362.57 L706.25 362.50 L707.00 362.61 L707.75 363.48 L708.50 362.34 L709.25 363.51 L710.00 363.53 L710.75 363.80 L711.50 363.84 L712.25 363.68 L713.00 363.33 L713.75 363.75 L714.50 363.94 L715.25 364.52 L716.00 365.73 L716.75 365.03 L717.50 366.25 L718.23 365.58 L718.96 366.37 L719.69 365.36 L720.42 364.89 L721.15 364.69 L721.88 365.41 L722.60 364.87 L723.33 365.83 L724.06 365.51 L724.79 365.54 L725.52 364.15 L726.25 364.40 L726.96 363.74 L727.68 363.80 L728.39 364.53 L729.11 364.93 L729.82 364.52 L730.54 364.21 L731.25 364.56 L731.96 364.95 L732.68 365.08 L733.39 365.25 L734.11 365.46 L734.82 365.19 L735.54 364.31 L736.25 365.00 L736.98 365.27 L737.71 364.03 L738.44 364.19 L739.17 363.55 L739.90 363.86 L740.62 362.64 L741.35 362.41 L742.08 362.10 L742.81 361.64 L743.54 362.57 L744.27 361.74 L745.00 361.30 L745.75 360.55 L746.50 360.22 L747.25 360.79 L748.00 359.50 L748.80 360.31 L749.60 360.64 L750.40 361.90 L751.15 364.47 L751.90 367.05 L752.65 369.62 L753.40 372.20 L754.15 374.22 L754.90 375.46 L755.65 377.53 L756.40 378.20 L757.35 384.20 L758.30 390.20 L759.20 394.45 L760.10 398.70 L760.90 396.02 L761.70 394.66 L762.50 392.70 L763.40 379.40 L764.30 366.10 L765.15 258.05 L766.00 150.00 L766.70 81.00 L767.50 81.00 L768.00 200.00 L768.50 402.30 L769.70 418.00 L770.42 419.50 L771.14 420.50 L771.86 421.58 L772.58 421.06 L773.30 422.80 L774.10 421.65 L774.90 420.55 L775.70 420.40 L776.75 415.25 L777.80 410.10 L778.55 409.87 L779.30 410.70 L780.20 416.15 L781.10 421.60 L781.82 423.12 L782.54 423.18 L783.26 424.49 L783.98 424.26 L784.70 425.20 L785.41 424.98 L786.13 423.43 L786.84 422.26 L787.56 422.30 L788.27 421.74 L788.99 419.47 L789.70 419.30 L790.55 420.71 L791.40 422.00 L792.25 422.57 L793.10 424.30 L794.05 424.23 L795.00 424.60 L795.76 424.32 L796.53 424.75 L797.29 425.17 L798.05 426.08 L798.82 426.49 L799.58 426.06 L800.35 426.06 L801.11 426.92 L801.87 427.85 L802.64 427.34 L803.40 428.20 L804.12 427.52 L804.84 426.98 L805.56 427.62 L806.28 426.84 L807.00 426.40 L807.90 423.52 L808.80 421.46 L809.70 420.00 L810.43 421.96 L811.17 424.35 L811.90 426.40 L812.70 426.44 L813.50 425.30 L814.30 425.23 L815.10 425.93 L815.90 425.25 L816.70 425.20 L817.45 424.91 L818.20 425.02 L818.95 426.20 L819.70 425.50 L820.54 426.32 L821.38 427.89 L822.22 428.68 L823.06 429.92 L823.90 431.20 L824.62 432.30 L825.34 433.00 L826.06 432.41 L826.78 432.61 L827.50 433.60 L828.22 433.75 L828.94 432.62 L829.66 432.04 L830.38 433.32 L831.10 432.40 L832.30 422.20 L833.25 410.00 L834.20 397.80 L835.40 414.90 L836.60 404.10 L837.50 417.35 L838.40 430.60 L839.20 431.67 L840.00 433.54 L840.80 434.04 L841.60 436.05 L842.40 436.53 L843.20 437.80 L843.92 436.03 L844.64 434.58 L845.36 434.29 L846.08 433.24 L846.80 431.80 L847.60 426.57 L848.40 421.33 L849.20 416.10 L850.00 409.80 L850.80 403.50 L851.80 415.85 L852.80 428.20 L853.60 431.00 L854.40 433.80 L855.20 436.60 L856.03 441.03 L856.87 445.47 L857.70 449.90 L858.50 448.80 L859.30 445.60 L860.10 444.50 L861.00 448.10 L861.90 451.70 L862.65 448.38 L863.40 445.05 L864.15 441.72 L864.90 438.40 L865.80 444.75 L866.70 451.10 L867.70 453.71 L868.70 455.90 L869.50 454.48 L870.30 453.50 L871.50 427.00 L872.40 442.65 L873.30 458.30 L874.02 459.03 L874.74 459.14 L875.46 460.09 L876.18 461.22 L876.90 461.90 L877.62 461.66 L878.34 459.31 L879.06 459.00 L879.78 458.58 L880.50 457.10 L881.27 454.10 L882.05 451.10 L882.83 448.10 L883.60 445.10 L884.35 448.70 L885.10 452.30 L885.85 455.90 L886.60 459.50 L887.40 461.66 L888.20 462.34 L889.00 464.30 L889.80 464.46 L890.60 466.03 L891.40 466.10 L892.12 466.55 L892.84 465.84 L893.56 465.21 L894.28 466.13 L895.00 465.50 L895.75 465.38 L896.50 466.01 L897.25 465.68 L898.00 465.94 L898.75 465.16 L899.50 465.92 L900.25 465.26 L901.00 465.60 L901.79 465.80 L902.57 466.64 L903.36 466.93 L904.14 466.48 L904.93 466.84 L905.71 467.37 L906.50 467.80 L907.28 467.82 L908.06 467.66 L908.84 467.35 L909.62 467.50 L910.40 467.80 L911.50 459.50 L912.30 443.25 L913.10 427.00 L914.40 465.00 L915.50 468.30 L916.25 468.63 L917.00 468.89 L917.75 467.93 L918.50 468.61 L919.25 468.91 L920.00 468.11 L920.75 469.12 L921.50 468.33 L922.25 468.96 L923.00 468.90 L923.70 468.89 L924.40 468.91 L925.10 468.45 L925.80 468.51 L926.50 468.63 L927.20 468.38 L927.90 468.58 L928.60 468.25 L929.30 468.17 L930.00 467.61 L930.70 468.10 L931.48 467.96 L932.26 467.53 L933.04 466.94 L933.82 467.29 L934.60 466.70 L935.36 467.53 L936.12 467.65 L936.88 467.82 L937.64 468.67 L938.40 469.20 L939.19 468.89 L939.97 469.07 L940.76 469.59 L941.54 469.34 L942.33 469.92 L943.11 470.15 L943.90 470.30 L944.63 469.52 L945.37 470.00 L946.10 469.10 L946.83 469.64 L947.57 469.46 L948.30 468.90 L949.15 460.90 L950.00 452.90 L951.40 467.20 L952.70 470.80 L953.43 470.81 L954.17 470.27 L954.90 470.80 L955.63 470.65 L956.37 471.34 L957.10 470.37 L957.83 471.22 L958.57 471.39 L959.30 471.08 L960.03 471.17 L960.77 470.44 L961.50 470.80 L962.23 471.40 L962.97 470.84 L963.70 471.42 L964.43 471.40 L965.17 470.53 L965.90 471.29 L966.63 471.49 L967.37 470.48 L968.10 470.85 L968.83 471.35 L969.57 470.67 L970.30 471.10 L971.03 470.92 L971.77 469.53 L972.50 469.53 L973.23 468.08 L973.97 467.85 L974.70 467.20 L975.63 469.37 L976.57 470.19 L977.50 472.20 L978.26 471.48 L979.02 471.33 L979.78 470.66 L980.54 469.89 L981.30 470.00 L982.01 470.09 L982.73 470.54 L983.44 471.93 L984.16 472.10 L984.87 472.83 L985.59 472.43 L986.30 473.30 L987.00 473.37 L987.70 472.30 L988.40 472.52 L989.10 472.38 L989.80 471.78 L990.50 472.12 L991.20 471.40" fill="none" stroke="#D9690D" stroke-width="2.1" stroke-linejoin="round"/>
<g stroke="#000" stroke-width="1.2" fill="none"><line x1="567.90" y1="25.0" x2="567.90" y2="734.7"/><line x1="765.85" y1="25.0" x2="765.85" y2="734.7"/><line x1="674.10" y1="287.6" x2="674.10" y2="734.7"/><line x1="778.45" y1="332.0" x2="778.45" y2="734.7"/><line x1="850.20" y1="266.4" x2="850.20" y2="734.7"/><line x1="834.85" y1="372.0" x2="834.85" y2="734.7"/><line x1="872.35" y1="410.7" x2="872.35" y2="734.7"/><line x1="912.40" y1="381.7" x2="912.40" y2="734.7"/><line x1="949.50" y1="344.5" x2="949.50" y2="734.7"/></g>
<g stroke="#000" stroke-width="3" stroke-linecap="round"><line x1="991.40" y1="736.2" x2="991.40" y2="749.2"/><line x1="911.20" y1="736.2" x2="911.20" y2="741.4"/><line x1="831.00" y1="736.2" x2="831.00" y2="749.2"/><line x1="750.80" y1="736.2" x2="750.80" y2="741.4"/><line x1="670.60" y1="736.2" x2="670.60" y2="749.2"/><line x1="590.40" y1="736.2" x2="590.40" y2="741.4"/><line x1="510.20" y1="736.2" x2="510.20" y2="749.2"/><line x1="430.00" y1="736.2" x2="430.00" y2="741.4"/><line x1="349.80" y1="736.2" x2="349.80" y2="749.2"/><line x1="269.60" y1="736.2" x2="269.60" y2="741.4"/><line x1="189.40" y1="736.2" x2="189.40" y2="749.2"/><line x1="109.20" y1="736.2" x2="109.20" y2="741.4"/><line x1="29.00" y1="736.2" x2="29.00" y2="749.2"/></g>
<path d="M29.00 734.7 L991.40 734.7" stroke="#000" stroke-width="3" fill="none" stroke-linecap="square"/>
<g font-family="Liberation Sans, sans-serif" font-size="26" text-anchor="middle" fill="#000"><text transform="translate(991.40 780.5) scale(1 1.035)">0</text><text transform="translate(831.00 780.5) scale(1 1.035)">200</text><text transform="translate(670.60 780.5) scale(1 1.035)">400</text><text transform="translate(510.20 780.5) scale(1 1.035)">600</text><text transform="translate(349.80 780.5) scale(1 1.035)">800</text><text transform="translate(189.40 780.5) scale(1 1.035)">1000</text><text transform="translate(29.00 780.5) scale(1 1.035)">1200</text></g>
<g font-family="Liberation Serif, serif" font-size="22.5" font-weight="bold" fill="#000"><text x="550.6" y="19.6">O 1s</text><text x="747.8" y="17.7">C 1s</text><text x="659.8" y="282.9">N 1s</text><text x="812.8" y="261.1">Se LMM</text><text x="768.0" y="326.8">Cl 2s</text><text x="800.0" y="367.0">Cl 2p</text><text x="926.0" y="338.5">Se 3d</text><text x="890.6" y="376.7">Si 2p</text><text x="855.0" y="408.6">Si 2s</text></g>
<g font-family="Liberation Serif, serif" font-size="29.15" fill="#000">
<text x="25" y="332.5">SeNPs immobilized on parylene-C</text>
<text x="25" y="602">Parylene-C</text>
</g>
<text x="510" y="820.5" font-family="Liberation Serif, serif" font-size="33.4" text-anchor="middle" fill="#000">Binding Energy (eV)</text>
</svg>
</body></html>
